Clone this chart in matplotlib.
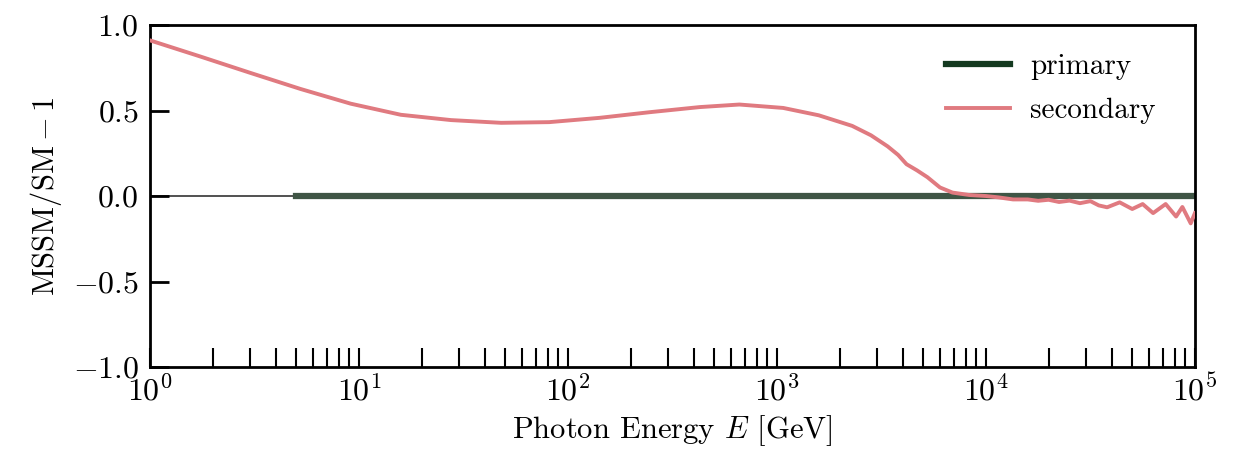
import matplotlib
matplotlib.use("Agg")
import matplotlib.pyplot as plt
import numpy as np

plt.rcParams["font.family"] = "serif"
plt.rcParams["font.serif"] = ["cmr10", "DejaVu Serif"]
plt.rcParams["mathtext.fontset"] = "cm"
plt.rcParams["axes.formatter.use_mathtext"] = True

# log10(E / GeV) and MSSM/SM - 1
secondary_logE = [0.0, 0.24, 0.48, 0.72, 0.96, 1.2, 1.44, 1.68, 1.91, 2.15, 2.39,
                  2.63, 2.82, 3.03, 3.2, 3.36, 3.45, 3.53, 3.58, 3.62, 3.67, 3.72,
                  3.75, 3.78, 3.81, 3.84, 3.92, 4.0, 4.06,
                  4.13, 4.2, 4.25, 4.3, 4.35, 4.4, 4.45, 4.5, 4.54, 4.58, 4.64,
                  4.7, 4.75, 4.8, 4.86, 4.91, 4.94, 4.98, 5.0]
secondary_ratio = [0.91, 0.816, 0.72, 0.626, 0.54, 0.475, 0.444, 0.428, 0.432, 0.457, 0.49,
                   0.52, 0.535, 0.515, 0.472, 0.41, 0.355, 0.29, 0.24, 0.186, 0.15, 0.11,
                   0.08, 0.05, 0.035, 0.02, 0.006, 0.0, -0.008,
                   -0.02, -0.02, -0.028, -0.022, -0.035, -0.027, -0.042, -0.03, -0.055,
                   -0.066, -0.037, -0.076, -0.047, -0.1, -0.047, -0.12, -0.064, -0.16,
                   -0.1]
primary_E = [5.0, 1e5]
primary_ratio = [0.0, 0.0]

fig = plt.figure(figsize=(12.33, 4.49), dpi=100)
ax = fig.add_axes([0.1217, 0.1826, 0.8474, 0.7617])

ax.axhline(0.0, color="#333333", lw=1.2, zorder=1)
ax.plot(primary_E, primary_ratio, color="#3f5545", lw=4.5, label="primary", zorder=2)
ax.plot(10 ** np.array(secondary_logE), secondary_ratio, color="#e07a80", lw=2.8,
        label="secondary", zorder=3)

ax.set_xscale("log")
ax.set_xlim(1, 1e5)
ax.set_ylim(-1.0, 1.0)
ax.set_yticks([-1.0, -0.5, 0.0, 0.5, 1.0])
ax.set_xlabel(r"Photon Energy $E$ [GeV]", fontsize=22, labelpad=5)
ax.set_ylabel(r"$\mathrm{MSSM/SM}-1$", fontsize=22, labelpad=6)

ax.tick_params(axis="both", which="both", direction="in", labelsize=23)
ax.tick_params(axis="y", which="major", length=14, width=2, pad=8)
ax.tick_params(axis="x", which="both", length=14, width=1.5, top=False, pad=5)
for s in ax.spines.values():
    s.set_linewidth(2)

leg = ax.legend(loc="upper right", frameon=False, fontsize=21, handlelength=2.2,
                handletextpad=0.7, labelspacing=0.6, borderaxespad=0.3,
                bbox_to_anchor=(0.982, 0.975))
leg.get_lines()[0].set_color("#143a20")

fig.savefig("out.png", dpi=100)
